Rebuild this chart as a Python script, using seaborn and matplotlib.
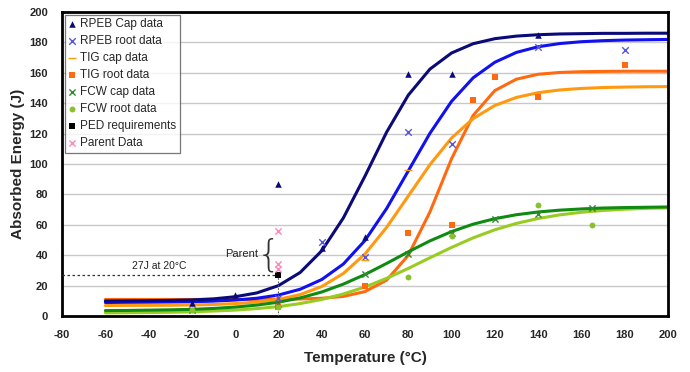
import numpy as np
import pandas as pd
import matplotlib
matplotlib.use('Agg')
import matplotlib.pyplot as plt
import seaborn as sns

# ---- data ----
# measured points
temp_rpeb_cap = [-20, 0, 20, 40, 60, 80, 100, 140]
e_rpeb_cap = [9, 14, 87, 45, 52, 159, 159, 185]

temp_rpeb_root = [20, 40, 60, 80, 100, 140, 180]
e_rpeb_root = [12, 49, 39, 121, 113, 177, 175]

temp_tig_cap = [60, 80]
e_tig_cap = [37, 96]

temp_tig_root = [20, 60, 80, 100, 110, 120, 140, 180]
e_tig_root = [6, 20, 55, 60, 142, 157, 144, 165]

temp_fcw_cap = [-20, 20, 60, 80, 100, 120, 140, 165]
e_fcw_cap = [4, 8, 28, 41, 55, 64, 67, 71]

temp_fcw_root = [-20, 20, 80, 100, 140, 165]
e_fcw_root = [4, 6, 26, 53, 73, 60]

temp_ped = [20]
e_ped = [27]

temp_parent = [20, 20, 20]
e_parent = [56, 34, 31]

# fitted transition curves, read every 10 degC
temp_curve = list(range(-60, 201, 10))
curve_rpeb_cap = [10.0, 10.1, 10.2, 10.4, 10.7, 11.4, 12.8, 15.3, 20.1, 28.7, 43.0, 64.6, 92.1,
                  121.0, 145.3, 162.4, 173.0, 179.1, 182.4, 184.1, 185.0, 185.5, 185.7, 185.9,
                  185.9, 186.0, 186.0]
curve_rpeb_root = [9.0, 9.1, 9.2, 9.3, 9.5, 9.9, 10.6, 11.8, 13.9, 17.7, 24.1, 34.3, 49.8,
                   70.8, 95.5, 120.2, 141.2, 156.7, 166.9, 173.4, 177.1, 179.2, 180.4, 181.1,
                   181.5, 181.7, 181.9]
curve_tig_cap = [7.0, 7.1, 7.1, 7.2, 7.4, 7.7, 8.3, 9.3, 11.1, 14.2, 19.5, 28.1, 40.9,
                 58.4, 79.0, 99.6, 117.1, 129.9, 138.5, 143.8, 146.9, 148.7, 149.7, 150.3,
                 150.6, 150.8, 150.9]
curve_tig_root = [11.0, 11.0, 11.0, 11.0, 11.0, 11.0, 11.0, 11.0, 11.1, 11.3, 11.8, 13.0, 16.2,
                  23.7, 40.0, 68.5, 103.5, 132.0, 148.3, 155.8, 159.0, 160.2, 160.7, 160.9,
                  161.0, 161.0, 161.0]
curve_fcw_cap = [3.7, 3.8, 4.0, 4.2, 4.5, 5.1, 6.0, 7.3, 9.2, 12.0, 15.9, 21.1, 27.4,
                 34.7, 42.3, 49.5, 55.6, 60.5, 64.1, 66.7, 68.5, 69.7, 70.5, 71.1,
                 71.4, 71.6, 71.8]
curve_fcw_root = [2.2, 2.3, 2.4, 2.6, 2.9, 3.4, 4.0, 5.0, 6.3, 8.3, 11.0, 14.6, 19.2,
                  24.9, 31.4, 38.4, 45.2, 51.5, 56.8, 61.0, 64.2, 66.6, 68.3, 69.5,
                  70.3, 70.9, 71.2]

x_ticks = list(range(-80, 201, 20))
y_ticks = list(range(0, 201, 20))

# ---- styling ----
sns.set_style('white')
plt.rcParams['font.family'] = ['Liberation Sans', 'DejaVu Sans']

fig, ax = plt.subplots(figsize=(6.9, 3.72), dpi=100)
fig.subplots_adjust(left=0.09, right=0.968, top=0.968, bottom=0.15)

for y in y_ticks[1:]:
    ax.axhline(y, color='#C8C8C8', lw=1, zorder=0)

# curves (drawn from the long table)
curves = pd.DataFrame({
    'temp': temp_curve * 6,
    'energy': (curve_tig_root + curve_rpeb_root + curve_rpeb_cap + curve_tig_cap
               + curve_fcw_root + curve_fcw_cap),
    'series': (['tig_root'] * len(temp_curve) + ['rpeb_root'] * len(temp_curve)
               + ['rpeb_cap'] * len(temp_curve) + ['tig_cap'] * len(temp_curve)
               + ['fcw_root'] * len(temp_curve) + ['fcw_cap'] * len(temp_curve)),
})
curve_colors = {
    'rpeb_cap': '#0A0A78',
    'rpeb_root': '#1010F0',
    'tig_cap': '#FF9A10',
    'tig_root': '#FF6A10',
    'fcw_cap': '#108A10',
    'fcw_root': '#99CC22',
}
for name in ['tig_root', 'rpeb_root', 'tig_cap', 'rpeb_cap', 'fcw_root', 'fcw_cap']:
    sub = curves[curves['series'] == name]
    sns.lineplot(data=sub, x='temp', y='energy', color=curve_colors[name], lw=2.2,
                 ax=ax, legend=False, sort=True, zorder=2)

# PED requirement guide lines
ax.plot([-80, 20], [27, 27], color='#333333', lw=0.9, ls=(0, (2, 2)), zorder=3)
ax.plot([20, 20], [0, 27], color='#555555', lw=0.8, ls=(0, (1.5, 1.5)), zorder=3)

# measured points
points = [
    (temp_rpeb_cap, e_rpeb_cap, '^', '#0A0A78', 22, 'RPEB Cap data'),
    (temp_rpeb_root, e_rpeb_root, 'x', '#5555DD', 22, 'RPEB root data'),
    (temp_tig_cap, e_tig_cap, '_', '#FF9A10', 30, 'TIG cap data'),
    (temp_tig_root, e_tig_root, 's', '#FF6A10', 20, 'TIG root data'),
    (temp_fcw_cap, e_fcw_cap, 'x', '#2E8B2E', 20, 'FCW cap data'),
    (temp_fcw_root, e_fcw_root, 'o', '#88C030', 18, 'FCW root data'),
    (temp_ped, e_ped, 's', '#000000', 24, 'PED requirements'),
    (temp_parent, e_parent, 'x', '#FF88BB', 20, 'Parent Data'),
]
for tx, ey, mk, col, sz, lab in points:
    kw = dict(linewidth=0) if mk in ('^', 's', 'o') else dict(linewidth=1.0)
    sns.scatterplot(x=tx, y=ey, marker=mk, color=col, s=sz, ax=ax, label=lab,
                    zorder=4, **kw)

# annotations
ax.text(-35, 29.5, '27J at 20°C', fontsize=7.5, ha='center', va='bottom', color='#222222')
ax.text(10.5, 41, 'Parent', fontsize=8, ha='right', va='center', color='#222222')
ax.text(15.6, 40.5, '{', fontsize=27, ha='center', va='center', color='#333333',
        family='DejaVu Sans', fontweight='light')

leg = ax.legend(loc='upper left', fontsize=8.5, frameon=True, fancybox=False,
                edgecolor='#555555', borderaxespad=0.25, handlelength=0.6,
                handletextpad=0.4, labelspacing=0.42, borderpad=0.3)
leg.get_frame().set_linewidth(0.9)

ax.set_xlim(-80, 200)
ax.set_ylim(0, 200)
ax.set_xticks(x_ticks)
ax.set_yticks(y_ticks)
ax.set_xticklabels([str(t) for t in x_ticks], fontsize=8, fontweight='bold')
ax.set_yticklabels([str(t) for t in y_ticks], fontsize=8, fontweight='bold')
ax.tick_params(axis='both', direction='out', length=4, width=1, color='black', pad=6)
ax.set_xlabel('Temperature (°C)', fontsize=11, fontweight='bold', labelpad=8)
ax.set_ylabel('Absorbed Energy (J)', fontsize=11, fontweight='bold', labelpad=3)

for side in ['left', 'right', 'top', 'bottom']:
    ax.spines[side].set_visible(True)
    ax.spines[side].set_color('black')
    ax.spines[side].set_linewidth(2)

fig.savefig('out.png', dpi=100, facecolor='white')
